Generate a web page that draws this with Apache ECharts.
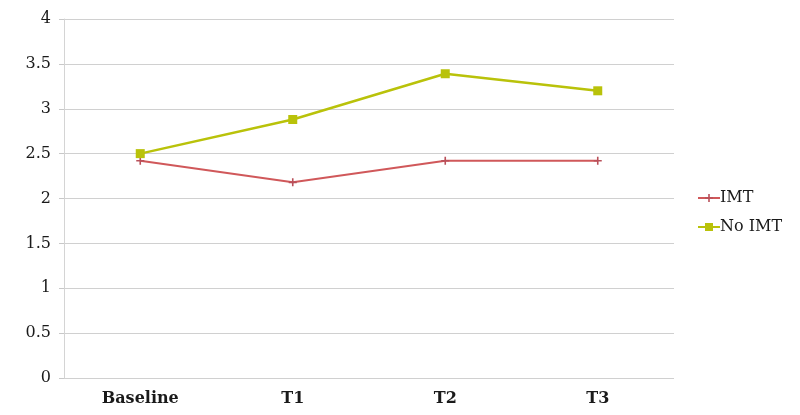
<!DOCTYPE html>
<html>
<head>
<meta charset="utf-8">
<script src="https://cdn.jsdelivr.net/npm/echarts@6/dist/echarts.min.js"></script>
<style>
  html, body { margin: 0; padding: 0; background: #ffffff; }
  #chart { width: 800px; height: 415px; }
</style>
</head>
<body>
<div id="chart"></div>
<script>
// Time points and mean scores per group
const categories = ['Baseline', 'T1', 'T2', 'T3'];
const imtValues = [2.42, 2.18, 2.42, 2.42];
const noImtValues = [2.50, 2.88, 3.39, 3.20];
const yTicks = [0, 0.5, 1, 1.5, 2, 2.5, 3, 3.5, 4];

const fontFamily = 'Georgia, "DejaVu Serif", "Liberation Serif", serif';
const crossPath = 'path://M4,0 L6,0 L6,4 L10,4 L10,6 L6,6 L6,10 L4,10 L4,6 L0,6 L0,4 L4,4 Z';

const chart = echarts.init(document.getElementById('chart'));
chart.setOption({
  animation: false,
  backgroundColor: '#ffffff',
  grid: { left: 64, right: 126, top: 19, bottom: 37 },
  legend: {
    orient: 'vertical',
    left: 692,
    top: 185,
    itemGap: 13,
    itemWidth: 22,
    itemHeight: 10,
    textStyle: { fontFamily, fontSize: 16, color: '#1a1a1a', padding: [0, 0, 0, -5] },
    data: ['IMT', 'No IMT']
  },
  xAxis: {
    type: 'category',
    data: categories,
    boundaryGap: true,
    axisLine: { show: false },
    axisTick: { show: false },
    axisLabel: { fontFamily, fontSize: 16, fontWeight: 'bold', color: '#1a1a1a', margin: 13 }
  },
  yAxis: {
    type: 'value',
    min: yTicks[0],
    max: yTicks[yTicks.length - 1],
    interval: 0.5,
    axisLine: { show: true, lineStyle: { color: '#d4d4d4', width: 1 } },
    axisTick: { show: true, length: 5, lineStyle: { color: '#c8c8c8' } },
    axisLabel: {
      fontFamily, fontSize: 16, color: '#1a1a1a', margin: 13,
      formatter: v => String(v)
    },
    splitLine: { lineStyle: { color: '#d0d0d0', width: 1 } }
  },
  series: [
    {
      name: 'IMT',
      type: 'line',
      data: imtValues,
      color: '#d0585a',
      lineStyle: { width: 2, color: '#d0585a' },
      symbol: crossPath,
      symbolSize: 8,
      itemStyle: { color: '#b9505a' }
    },
    {
      name: 'No IMT',
      type: 'line',
      data: noImtValues,
      color: '#b9c20a',
      lineStyle: { width: 2.5, color: '#b9c20a' },
      symbol: 'rect',
      symbolSize: 9,
      itemStyle: { color: '#b9c20a' }
    }
  ]
});
</script>
</body>
</html>
